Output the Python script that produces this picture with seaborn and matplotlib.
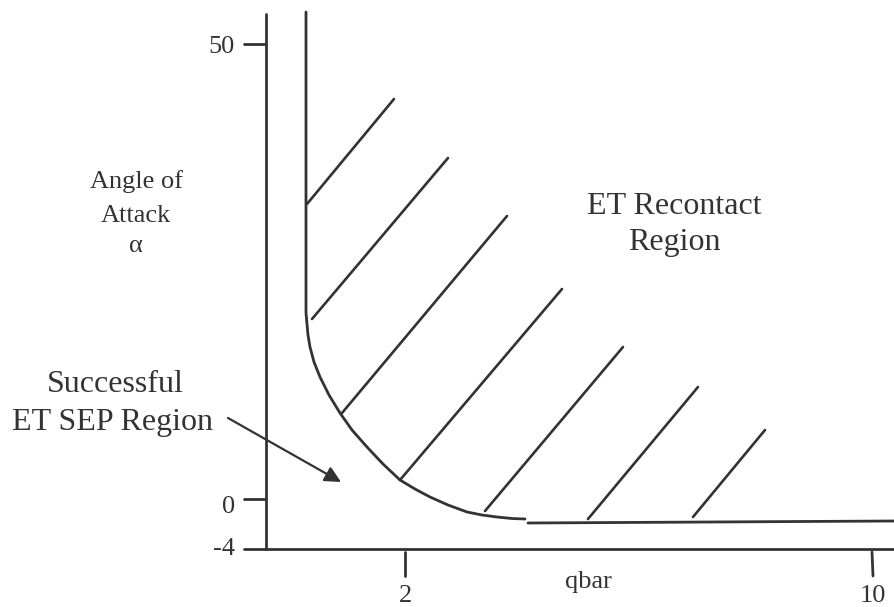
import pandas as pd
import seaborn as sns
from matplotlib import pyplot as plt

# Sketch coordinates (pixels of the original drawing, y pointing down)

# boundary between the successful-separation region and the recontact region
boundary_x = [306, 306, 308, 310, 314, 320, 329, 340, 352, 367, 383, 400,
              415, 430, 448, 467, 482, 497, 512, 525]
boundary_y = [12, 313, 335, 347, 362, 377, 395, 413, 430, 447, 464, 480,
              489, 497, 505, 512, 515, 517, 518.5, 519]
floor_x = [528, 894]
floor_y = [523, 521]

# hatch strokes in the recontact region
hatch_x0 = [307, 312, 342, 400, 485, 588, 693]
hatch_y0 = [204, 319, 413, 480, 511, 519, 517]
hatch_x1 = [394, 448, 507, 562, 623, 698, 765]
hatch_y1 = [99, 158, 216, 289, 347, 387, 430]

# axes
yaxis_x = 266
yaxis_top = 14
xaxis_y = 549
xaxis_right = 894

ytick_labels = ['50', '0', '-4']
ytick_pos = [44, 499, 549]
ytick_base = [53, 513, 555]
xtick_labels = ['2', '10']
xtick_pos = [405, 872]

INK = '#333333'

sns.set_theme(style='white')
plt.rcParams['font.family'] = ['Liberation Serif', 'DejaVu Serif']

fig = plt.figure(figsize=(8.94, 6.07), dpi=100)
ax = fig.add_axes([0, 0, 1, 1])

# frame + ticks as separate segments
segs = []
segs += [(0, yaxis_x, yaxis_top), (0, yaxis_x, xaxis_y)]
segs += [(1, yaxis_x, xaxis_y), (1, xaxis_right, xaxis_y)]
for i, yp in enumerate(ytick_pos):
    segs += [(2 + i, 244, yp), (2 + i, yaxis_x, yp)]
for i, xp in enumerate(xtick_pos):
    segs += [(10 + i, xp, 552), (10 + i, xp + (1 if i else 0), 576)]
frame_df = pd.DataFrame(segs, columns=['seg', 'x', 'y'])
sns.lineplot(data=frame_df, x='x', y='y', units='seg', estimator=None,
             sort=False, color=INK, lw=2.0, ax=ax)

# boundary curve and floor
sns.lineplot(x=boundary_x, y=boundary_y, sort=False, estimator=None,
             color=INK, lw=2.0, ax=ax)
sns.lineplot(x=floor_x, y=floor_y, sort=False, estimator=None,
             color=INK, lw=2.0, ax=ax)

# hatching
rows = []
for i in range(len(hatch_x0)):
    rows.append((i, hatch_x0[i], hatch_y0[i]))
    rows.append((i, hatch_x1[i], hatch_y1[i]))
hatch_df = pd.DataFrame(rows, columns=['line', 'x', 'y'])
sns.lineplot(data=hatch_df, x='x', y='y', units='line', estimator=None,
             sort=False, color=INK, lw=1.9, ax=ax)

# tick labels
small = 19
for lab, yb in zip(ytick_labels, ytick_base):
    ax.text(235, yb, lab, ha='right', va='baseline', fontsize=small, color=INK)
for lab, xp in zip(xtick_labels, xtick_pos):
    ax.text(xp + 1, 607, lab, ha='center', va='bottom', fontsize=small, color=INK)
ax.text(588, 588, 'qbar', ha='center', va='baseline', fontsize=small, color=INK)

# axis title
ax.text(136, 188, 'Angle of', ha='center', va='baseline', fontsize=small, color=INK)
ax.text(136, 222, 'Attack', ha='center', va='baseline', fontsize=small, color=INK)
ax.text(136, 252, '\u03b1', ha='center', va='baseline', fontsize=small, color=INK)

# region labels
big = 23
ax.text(674, 214, 'ET Recontact', ha='center', va='baseline', fontsize=big, color=INK)
ax.text(674, 250, 'Region', ha='center', va='baseline', fontsize=big, color=INK)
ax.text(115, 392, 'Successful', ha='center', va='baseline', fontsize=big, color=INK)
ax.text(112, 430, 'ET SEP Region', ha='center', va='baseline', fontsize=big, color=INK)

ax.annotate('', xy=(341, 482), xytext=(228, 418),
            arrowprops=dict(arrowstyle='-|>', color=INK, lw=1.6,
                            mutation_scale=24, shrinkA=0, shrinkB=0))

ax.set_xlim(0, 894)
ax.set_ylim(607, 0)
ax.set_axis_off()
if ax.get_legend() is not None:
    ax.get_legend().remove()

fig.savefig('out.png', dpi=100, facecolor='white')
